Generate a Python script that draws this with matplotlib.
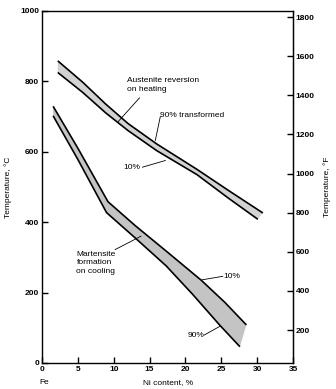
import numpy as np
import matplotlib
matplotlib.use("Agg")
import matplotlib.pyplot as plt

plt.rcParams['font.family'] = ['Liberation Sans', 'DejaVu Sans']

# austenite reversion on heating (upper = 90 % transformed, lower = 10 %)
aus_hi_x = [2.2, 5.7, 8.9, 12.0, 16.0, 21.6, 26.0, 30.8]
aus_hi_t = [858, 797, 735, 680, 622, 550, 490, 426]
aus_lo_x = [2.2, 5.7, 8.9, 12.0, 16.0, 21.6, 26.0, 30.1]
aus_lo_t = [825, 768, 710, 660, 603, 535, 468, 408]

# martensite formation on cooling (upper = 10 %, lower = 90 %)
mar_hi_x = [1.55, 5.0, 9.2, 13.0, 17.3, 22.2, 25.5, 28.5]
mar_hi_t = [729, 610, 458, 390, 318, 235, 172, 108]
mar_lo_x = [1.55, 5.0, 9.0, 13.0, 17.3, 21.0, 24.8, 27.6]
mar_lo_t = [702, 578, 427, 355, 276, 195, 107, 46]

c_ticks = [0, 200, 400, 600, 800, 1000]
f_ticks = [200, 400, 600, 800, 1000, 1200, 1400, 1600, 1800]
x_ticks = [0, 5, 10, 15, 20, 25, 30, 35]

fig = plt.figure(figsize=(3.36, 3.89), dpi=100)
ax = fig.add_axes([0.125, 0.067, 0.747, 0.905])


def band(xh, th, xl, tl, col):
    px = list(xh) + list(xl)[::-1]
    pt = list(th) + list(tl)[::-1]
    ax.fill(px, pt, color=col, lw=0, zorder=1)
    ax.plot(xh, th, color='k', lw=1.2, zorder=2, solid_capstyle='butt')
    ax.plot(xl, tl, color='k', lw=1.2, zorder=2, solid_capstyle='butt')


band(aus_hi_x, aus_hi_t, aus_lo_x, aus_lo_t, '#d2d2d2')
band(mar_hi_x, mar_hi_t, mar_lo_x, mar_lo_t, '#c4c4c4')

ax.set_xlim(0, 35)
ax.set_ylim(0, 1000)
ax.set_xticks(x_ticks)
ax.set_yticks(c_ticks)
ax.tick_params(direction='in', length=4, width=1, labelsize=6, pad=2)
for lab in ax.get_xticklabels() + ax.get_yticklabels():
    lab.set_fontweight('bold')
for s in ax.spines.values():
    s.set_linewidth(1)

sec = ax.secondary_yaxis('right', functions=(lambda c: c * 9 / 5 + 32,
                                             lambda f: (f - 32) * 5 / 9))
sec.set_yticks(f_ticks)
sec.tick_params(direction='in', length=4, width=1, labelsize=6, pad=2)
for lab in sec.get_yticklabels():
    lab.set_fontweight('bold')

ax.set_ylabel('Temperature, °C', fontsize=6, labelpad=6)
sec.set_ylabel('Temperature, °F', fontsize=6, labelpad=6)
fig.text(0.5, 0.016, 'Ni content, %', fontsize=6, ha='center', va='center')
fig.text(0.118, 0.016, 'Fe', fontsize=6, ha='left', va='center')

fs = 6
ax.text(11.9, 790, 'Austenite reversion\non heating', fontsize=fs, ha='left', va='center',
        linespacing=1.3)
ax.plot([13.6, 10.6], [753, 685], color='k', lw=0.6)
ax.text(16.5, 702, '90% transformed', fontsize=fs, ha='left', va='center')
ax.plot([16.5, 15.8], [700, 632], color='k', lw=0.6)
ax.text(13.7, 554, '10%', fontsize=fs, ha='right', va='center')
ax.plot([14.0, 17.2], [556, 575], color='k', lw=0.6)
ax.text(4.8, 285, 'Martensite\nformation\non cooling', fontsize=fs, ha='left', va='center',
        linespacing=1.3)
ax.plot([10.2, 13.8], [322, 360], color='k', lw=0.6)
ax.text(25.3, 246, '10%', fontsize=fs, ha='left', va='center')
ax.plot([25.2, 22.3], [246, 236], color='k', lw=0.6)
ax.text(22.6, 77, '90%', fontsize=fs, ha='right', va='center')
ax.plot([22.6, 24.8], [79, 104], color='k', lw=0.6)

fig.savefig('out.png', dpi=100)
